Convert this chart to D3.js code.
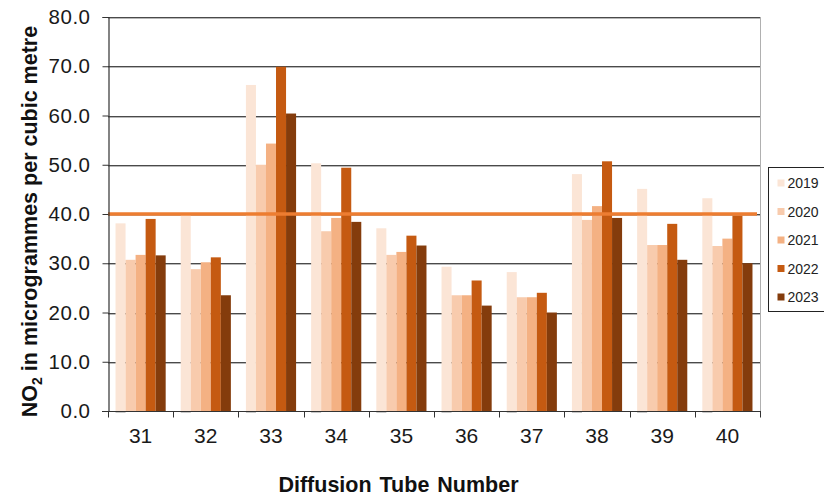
<!DOCTYPE html>
<html>
<head>
<meta charset="utf-8">
<script src="https://cdn.jsdelivr.net/npm/d3@7/dist/d3.min.js"></script>
<style>
  html, body { margin: 0; padding: 0; background: #fff; }
  svg { display: block; font-family: Arial, "Liberation Sans", sans-serif; }
</style>
</head>
<body>
<svg id="chart" width="824" height="500"></svg>
<script>
// Diffusion tube sites and annual mean NO2 (µg/m³) per year
const tubes = ["31", "32", "33", "34", "35", "36", "37", "38", "39", "40"];
const years = ["2019", "2020", "2021", "2022", "2023"];
const values2019 = [38.1, 39.8, 66.2, 50.3, 37.1, 29.3, 28.2, 48.1, 45.1, 43.2];
const values2020 = [30.7, 28.8, 50.0, 36.5, 31.7, 23.5, 23.1, 38.8, 33.7, 33.5];
const values2021 = [31.7, 30.2, 54.3, 39.2, 32.3, 23.5, 23.1, 41.6, 33.7, 35.0];
const values2022 = [39.0, 31.2, 69.9, 49.4, 35.6, 26.5, 24.0, 50.7, 38.0, 39.7];
const values2023 = [31.6, 23.5, 60.4, 38.4, 33.6, 21.4, 20.0, 39.2, 30.7, 30.0];
const yTicks = [0, 10, 20, 30, 40, 50, 60, 70, 80];
const objective = 40; // annual mean objective

const seriesValues = [values2019, values2020, values2021, values2022, values2023];
const colors = ["#FBE5D6", "#F8CBAD", "#F4B183", "#C55A11", "#843C0C"];

const svg = d3.select("#chart");
const plot = { left: 108, right: 760, top: 17, bottom: 411 };

const x = d3.scaleBand().domain(tubes).range([plot.left, plot.right]).paddingInner(0).paddingOuter(0);
const xYear = d3.scaleBand().domain(years).range([0, x.bandwidth()]).paddingInner(0).paddingOuter(0.75);
const y = d3.scaleLinear().domain([0, 80]).range([plot.bottom, plot.top]);
const color = d3.scaleOrdinal().domain(years).range(colors);

// Horizontal gridlines
const grid = svg.append("g");
yTicks.filter(t => t > 0).forEach(t => {
  grid.append("line")
    .attr("x1", plot.left).attr("x2", plot.right)
    .attr("y1", Math.round(y(t)) + 1.5).attr("y2", Math.round(y(t)) + 1.5)
    .attr("stroke", "#b8b8b8").attr("stroke-width", 1);
  grid.append("line")
    .attr("x1", plot.left).attr("x2", plot.right)
    .attr("y1", Math.round(y(t)) + 0.5).attr("y2", Math.round(y(t)) + 0.5)
    .attr("stroke", "#4a4a4a").attr("stroke-width", 1);
});

// Right plot border
svg.append("line")
  .attr("x1", plot.right + 0.5).attr("x2", plot.right + 0.5)
  .attr("y1", plot.top).attr("y2", plot.bottom)
  .attr("stroke", "#b0b0b0").attr("stroke-width", 1);

// Bars
const rows = tubes.map((t, i) => ({ tube: t, vals: years.map((yr, j) => ({ year: yr, value: seriesValues[j][i] })) }));
const groups = svg.append("g").selectAll("g").data(rows).join("g")
  .attr("transform", d => `translate(${x(d.tube)},0)`);
groups.selectAll("rect").data(d => d.vals).join("rect")
  .attr("x", d => xYear(d.year))
  .attr("width", xYear.bandwidth())
  .attr("y", d => y(d.value))
  .attr("height", d => y(0) - y(d.value))
  .attr("fill", d => color(d.year));
// faint base stroke under the first series
groups.append("line")
  .attr("x1", xYear(years[0])).attr("x2", xYear(years[0]) + xYear.bandwidth())
  .attr("y1", y(0) + 1.5).attr("y2", y(0) + 1.5)
  .attr("stroke", "#c8c8c8").attr("stroke-width", 1);

// Objective line
svg.append("line")
  .attr("x1", plot.left).attr("x2", plot.right - 3)
  .attr("y1", y(objective)).attr("y2", y(objective))
  .attr("stroke", "#ED7D31").attr("stroke-width", 3.5);

// Y axis
const yAxis = svg.append("g").attr("transform", `translate(${plot.left + 0.5},0)`)
  .call(d3.axisLeft(y).tickValues(yTicks).tickFormat(d3.format(".1f")).tickSizeOuter(0).tickSize(6).tickPadding(12));
yAxis.select(".domain").attr("stroke", "#333").attr("stroke-width", 1.2);
yAxis.selectAll(".tick line").attr("stroke", "#333");
yAxis.selectAll(".tick text").attr("font-size", 20.5).attr("fill", "#1a1a1a")
  .attr("letter-spacing", 0.5)
  .attr("font-family", "Arial, 'Liberation Sans', sans-serif");

// X axis: ticks at category boundaries
const xAxisG = svg.append("g").attr("transform", `translate(0,${plot.bottom + 0.5})`);
xAxisG.append("line").attr("x1", plot.left - 6).attr("x2", plot.right + 1)
  .attr("stroke", "#333").attr("stroke-width", 1.2);
tubes.forEach(t => {
  xAxisG.append("line").attr("x1", Math.round(x(t)) + 0.5).attr("x2", Math.round(x(t)) + 0.5)
    .attr("y1", 0).attr("y2", 6).attr("stroke", "#333");
});
xAxisG.append("line").attr("x1", plot.right + 0.5).attr("x2", plot.right + 0.5)
  .attr("y1", 0).attr("y2", 6).attr("stroke", "#333");
xAxisG.selectAll("text.lbl").data(tubes).join("text").attr("class", "lbl")
  .attr("x", d => x(d) + x.bandwidth() / 2)
  .attr("y", 31.5)
  .attr("text-anchor", "middle")
  .attr("font-size", 21).attr("fill", "#1a1a1a")
  .text(d => d);

// Axis titles
svg.append("text")
  .attr("x", 398.5).attr("y", 492)
  .attr("text-anchor", "middle")
  .attr("font-size", 21.5).attr("font-weight", "bold").attr("fill", "#111")
  .attr("word-spacing", 2)
  .text("Diffusion Tube Number");

const yTitle = svg.append("text")
  .attr("transform", "translate(37,221.5) rotate(-90)")
  .attr("text-anchor", "middle")
  .attr("font-size", 21.5).attr("font-weight", "bold").attr("fill", "#111");
yTitle.append("tspan").text("NO");
yTitle.append("tspan").attr("font-size", 14).attr("dy", 5).text("2");
yTitle.append("tspan").attr("dy", -5).text(" in microgrammes per cubic metre");

// Legend
const legend = svg.append("g").attr("transform", "translate(768.5,167.5)");
legend.append("rect").attr("width", 80).attr("height", 144)
  .attr("fill", "#fff").attr("stroke", "#222").attr("stroke-width", 1);
years.forEach((yr, i) => {
  const cy = 15.5 + i * 28.5;
  legend.append("rect").attr("x", 9).attr("y", cy - 3.5).attr("width", 7).attr("height", 7)
    .attr("fill", color(yr));
  legend.append("text").attr("x", 19).attr("y", cy + 5)
    .attr("font-size", 14).attr("fill", "#222").text(yr);
});
</script>
</body>
</html>
